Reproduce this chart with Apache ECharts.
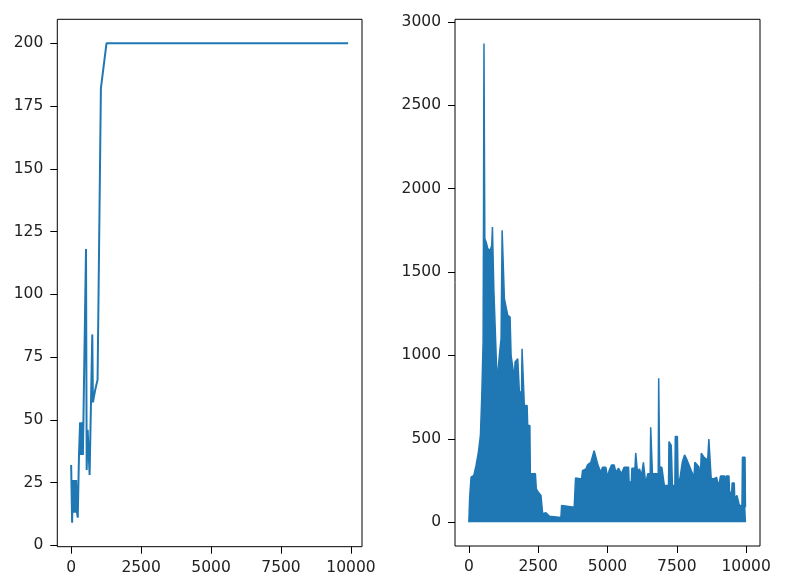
<!DOCTYPE html>
<html>
<head>
<meta charset="utf-8">
<script src="https://cdn.jsdelivr.net/npm/echarts@6/dist/echarts.min.js"></script>
<style>
html,body{margin:0;padding:0;background:#fff;}
#c{width:787px;height:582px;}
</style>
</head>
<body>
<div id="c"></div>
<script>
// Left panel: steps per episode
const leftEpisodes = [0, 35, 60, 90, 120, 150, 180, 210, 236, 280, 320, 350, 380, 420, 470, 531, 555, 590, 630, 660, 700, 755, 778, 826, 861, 944, 1063, 1263, 9900];
const leftSteps    = [32, 9, 26, 13, 26, 13, 26, 13, 11, 36, 49, 36, 49, 36, 36, 118, 30, 46, 46, 28, 28, 84, 57, 57, 62, 66, 182, 200, 200];

// Right panel: loss (upper envelope of the dense trace)
const lossSteps = [0, 30, 80, 180, 260, 345, 417, 467, 514, 530, 545, 560, 575, 622, 683, 777, 825, 850, 880, 900, 957, 1018, 1101, 1162, 1200, 1250, 1281, 1330, 1403, 1486, 1522, 1580, 1642, 1666, 1763, 1822, 1900, 1918, 1978, 2000, 2100, 2122, 2200, 2216, 2400, 2432, 2504, 2600, 2662, 2780, 2842, 2900, 3320, 3345, 3800, 3848, 4065, 4100, 4220, 4280, 4400, 4518, 4580, 4662, 4760, 4820, 4940, 5000, 5060, 5144, 5240, 5300, 5360, 5400, 5460, 5500, 5598, 5760, 5778, 5860, 5880, 5990, 6018, 6060, 6080, 6150, 6230, 6295, 6360, 6378, 6450, 6540, 6558, 6600, 6620, 6830, 6846, 6870, 6880, 6960, 6980, 7050, 7200, 7217, 7300, 7340, 7430, 7445, 7520, 7550, 7620, 7697, 7780, 7850, 7900, 8020, 8120, 8150, 8300, 8340, 8370, 8381, 8480, 8560, 8580, 8640, 8655, 8720, 8740, 8830, 8930, 9010, 9076, 9220, 9230, 9260, 9280, 9380, 9400, 9480, 9496, 9570, 9590, 9670, 9740, 9755, 9850, 9867, 9960, 9975, 10000];
const lossValues = [0, 150, 270, 280, 340, 420, 520, 760, 1080, 1900, 2870, 2870, 1700, 1680, 1640, 1630, 1660, 1770, 1770, 1400, 1130, 840, 1000, 1100, 1750, 1750, 1340, 1300, 1240, 1230, 1000, 990, 860, 960, 980, 780, 780, 1040, 1040, 700, 700, 580, 580, 290, 290, 200, 180, 160, 50, 56, 56, 36, 28, 100, 90, 265, 259, 309, 319, 343, 359, 429, 389, 339, 299, 329, 329, 269, 309, 343, 343, 299, 299, 323, 323, 290, 329, 329, 240, 240, 323, 323, 415, 415, 300, 320, 280, 359, 359, 230, 290, 290, 569, 569, 290, 290, 863, 863, 329, 329, 320, 220, 220, 483, 460, 220, 220, 513, 513, 220, 270, 359, 403, 380, 359, 309, 269, 359, 330, 220, 220, 413, 389, 380, 269, 269, 499, 499, 260, 260, 269, 214, 276, 276, 170, 170, 276, 276, 180, 180, 235, 235, 140, 160, 160, 100, 100, 389, 389, 90, 90];

// Tick labels
const xTicks = [0, 2500, 5000, 7500, 10000];
const leftYTicks = [0, 25, 50, 75, 100, 125, 150, 175, 200];
const rightYTicks = [0, 500, 1000, 1500, 2000, 2500, 3000];

const leftData = leftEpisodes.map((x, i) => [x, leftSteps[i]]);
const lossData = lossSteps.map((x, i) => [x, lossValues[i]]);

const FONT = 'DejaVu Sans';
const FS = 15.5;
const TXT = '#222';
const BLUE = '#1f77b4';

function xAxisCfg(gi, min, max) {
  return {
    gridIndex: gi, type: 'value', min: min, max: max,
    splitLine: {show: false},
    axisLine: {show: false, onZero: false},
    axisTick: {show: true, length: 7, customValues: xTicks, lineStyle: {color: '#000', width: 1}},
    axisLabel: {customValues: xTicks, margin: 13, fontFamily: FONT, fontSize: FS, color: TXT, formatter: v => String(v)}
  };
}
function yAxisCfg(gi, min, max, ticks) {
  return {
    gridIndex: gi, type: 'value', min: min, max: max,
    splitLine: {show: false},
    axisLine: {show: false, onZero: false},
    axisTick: {show: true, length: 7, customValues: ticks, lineStyle: {color: '#000', width: 1}},
    axisLabel: {customValues: ticks, margin: 14, fontFamily: FONT, fontSize: FS, color: TXT, formatter: v => String(v)}
  };
}

const chart = echarts.init(document.getElementById('c'), null, {renderer: 'canvas'});
chart.setOption({
  animation: false,
  backgroundColor: '#fff',
  grid: [
    {left: 57.3, top: 19.3, width: 304.7, height: 527.4, show: true, borderColor: '#000', borderWidth: 1, backgroundColor: 'transparent'},
    {left: 455, top: 19.3, width: 305, height: 526.7, show: true, borderColor: '#000', borderWidth: 1, backgroundColor: 'transparent'}
  ],
  xAxis: [xAxisCfg(0, -495, 10395), xAxisCfg(1, -500, 10500)],
  yAxis: [yAxisCfg(0, -0.55, 209.55, leftYTicks), yAxisCfg(1, -143, 3015, rightYTicks)],
  series: [
    {type: 'line', xAxisIndex: 0, yAxisIndex: 0, data: leftData, symbol: 'none',
     lineStyle: {color: BLUE, width: 2}, z: 3},
    {type: 'line', xAxisIndex: 1, yAxisIndex: 1, data: lossData, symbol: 'none',
     lineStyle: {color: BLUE, width: 1.5}, areaStyle: {color: BLUE, opacity: 1, origin: 0}, z: 3}
  ]
});
</script>
</body>
</html>
